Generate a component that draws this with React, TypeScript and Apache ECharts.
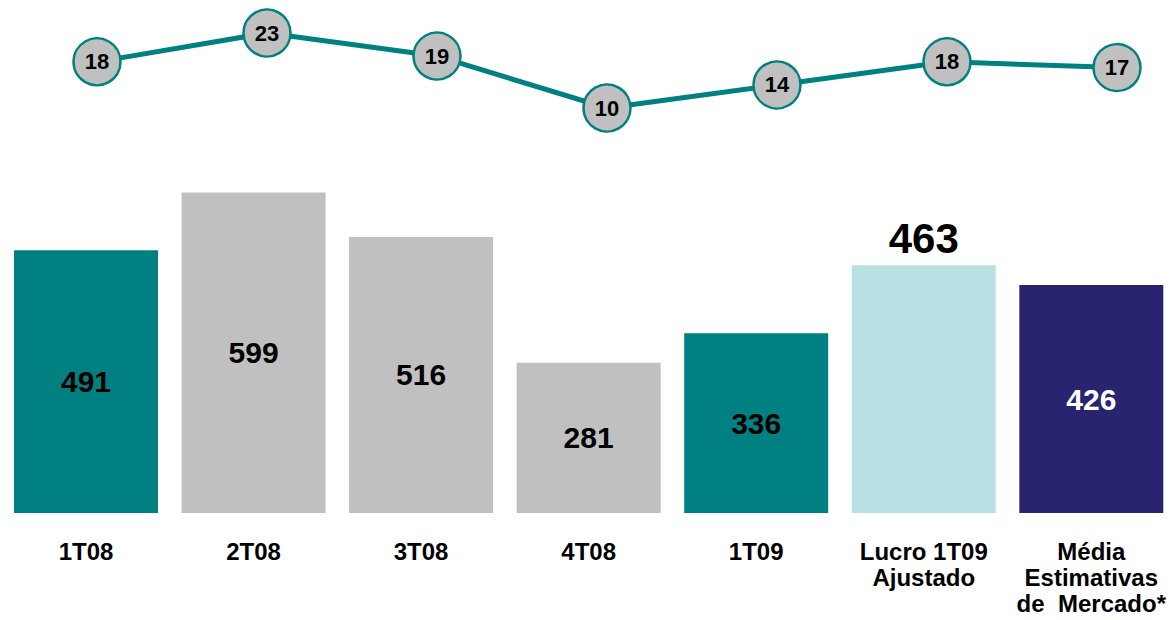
import React, { useEffect, useRef } from "react";
import * as echarts from "echarts";

const categories = ["1T08", "2T08", "3T08", "4T08", "1T09", "Lucro 1T09\nAjustado", "Média\nEstimativas\nde  Mercado*"];
const profitValues = [491, 599, 516, 281, 336, 463, 426];
const lineValues = [18, 23, 19, 10, 14, 18, 17];
const barColors = ["#008080", "#C0C0C0", "#C0C0C0", "#C0C0C0", "#008080", "#B9E0E3", "#29246F"];

const FONT = "'Liberation Sans', Arial, sans-serif";

export default function App() {
  const ref = useRef<HTMLDivElement>(null);
  useEffect(() => {
    document.body.style.margin = "0";
    const chart = echarts.init(ref.current!, null, { renderer: "svg" });
    const barData = profitValues.map((v, i) => {
      const item: any = { value: v, itemStyle: { color: barColors[i] } };
      if (i === 5) {
        item.label = { position: "top", fontSize: 42, distance: 6, color: "#000" };
      }
      if (i === 6) {
        item.label = { color: "#fff" };
      }
      return item;
    });
    chart.setOption({
      animation: false,
      backgroundColor: "#fff",
      textStyle: { fontFamily: FONT },
      grid: [
        { left: 86, right: 75, top: 192, bottom: 107 },
        { left: 97, right: 52, top: 33, bottom: 512 },
      ],
      xAxis: [
        {
          type: "category",
          gridIndex: 0,
          boundaryGap: false,
          data: categories,
          axisLine: { show: false },
          axisTick: { show: false },
          axisLabel: {
            interval: 0,
            margin: 25,
            fontSize: 24,
            fontWeight: "bold",
            color: "#000",
            lineHeight: 26,
            fontFamily: FONT,
          },
        },
        {
          type: "category",
          gridIndex: 1,
          boundaryGap: false,
          data: categories,
          show: false,
        },
      ],
      yAxis: [
        { type: "value", gridIndex: 0, min: 0, max: 600, show: false, splitLine: { show: false } },
        { type: "value", gridIndex: 1, min: 10, max: 23, show: false, splitLine: { show: false } },
      ],
      series: [
        {
          type: "bar",
          xAxisIndex: 0,
          yAxisIndex: 0,
          barWidth: 144,
          clip: false,
          data: barData,
          label: {
            show: true,
            position: "inside",
            fontSize: 30,
            fontWeight: "bold",
            color: "#000",
            fontFamily: FONT,
          },
        },
        {
          type: "line",
          xAxisIndex: 1,
          yAxisIndex: 1,
          data: lineValues,
          symbol: "circle",
          symbolSize: 47,
          clip: false,
          lineStyle: { color: "#008080", width: 5 },
          itemStyle: { color: "#C0C0C0", borderColor: "#008080", borderWidth: 2.5 },
          label: {
            show: true,
            position: "inside",
            fontSize: 22,
            fontWeight: "bold",
            color: "#000",
            fontFamily: FONT,
          },
          z: 5,
        },
      ],
    });
    return () => chart.dispose();
  }, []);
  return <div ref={ref} style={{ width: 1169, height: 620, position: "absolute", left: 0, top: 0 }} />;
}
